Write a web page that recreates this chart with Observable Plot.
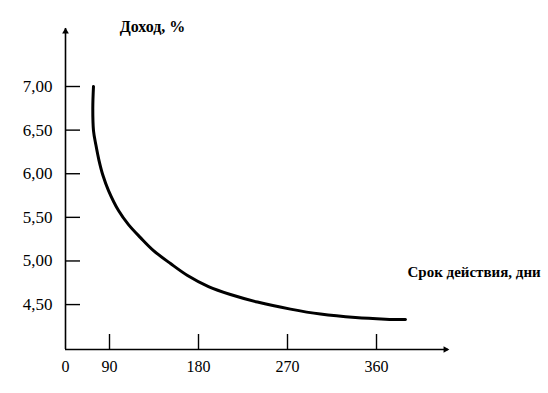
<!DOCTYPE html>
<html>
<head>
<meta charset="utf-8">
<script src="https://cdn.jsdelivr.net/npm/d3@7"></script>
<script src="https://cdn.jsdelivr.net/npm/@observablehq/plot@0.6"></script>
<style>
  html, body { margin: 0; padding: 0; background: #fff; }
  #chart svg { display: block; }
  #chart svg text { font-family: "Liberation Serif", "Times New Roman", Times, Tinos, "DejaVu Serif", "Noto Serif", serif !important; }
</style>
</head>
<body>
<div id="chart"></div>
<script>
// Curve: term (days) vs yield (%)
const days   = [73.8, 73.1, 73.8, 76.35, 79.4, 83.4, 89.0, 99.1, 109.2, 121.3, 134.5, 151.7, 168.9, 190.1, 212.3, 239.6, 273.0, 303.3, 338.7, 369.1, 389.3];
const yields = [7.000, 6.748, 6.495, 6.323, 6.151, 5.979, 5.807, 5.578, 5.417, 5.268, 5.119, 4.970, 4.833, 4.706, 4.615, 4.529, 4.448, 4.391, 4.351, 4.333, 4.328];

const yTicks = [7.0, 6.5, 6.0, 5.5, 5.0, 4.5];
const yTickLabels = ["7,00", "6,50", "6,00", "5,50", "5,00", "4,50"];
const xTicks = [45.5, 90, 180, 270, 360];
const xTickLabels = ["0", "90", "180", "270", "360"];
const xDomain = [45.5, 432.8];
const yDomain = [3.985, 7.665];

const yTitle = "Доход, %";
const xTitle = "Срок действия, дни";

const data = days.map((d, i) => ({day: d, y: yields[i]}));
const W = 548, H = 393;
const mL = 65, mR = 100, mT = 28, mB = 44;
const plotW = W - mL - mR, plotH = H - mT - mB;
const font = "Liberation Serif, Times New Roman, Times, DejaVu Serif, serif";

const chart = Plot.plot({
  width: W, height: H,
  marginLeft: mL, marginRight: mR, marginTop: mT, marginBottom: mB,
  style: {fontFamily: font, background: "#fff", color: "#000", overflow: "visible"},
  x: {domain: xDomain, axis: null},
  y: {domain: yDomain, axis: null},
  marks: [
    // axis lines
    Plot.ruleX([xDomain[0]], {stroke: "#000", strokeWidth: 1.6}),
    Plot.ruleY([yDomain[0]], {stroke: "#000", strokeWidth: 1.6}),
    // arrow heads
    Plot.dot([yDomain[1]], {x: () => xDomain[0], y: d => d, symbol: "triangle2", r: 3.2, fill: "#000", dy: 3}),
    Plot.dot([xDomain[1]], {x: d => d, y: () => yDomain[0], symbol: "triangle2", r: 3.2, fill: "#000", rotate: 90, dx: -3}),
    // y ticks (inward)
    Plot.tickY(yTicks, {y: d => d, stroke: "#000", strokeWidth: 1.4, insetRight: plotW - 15}),
    // x ticks (inward), skip origin
    Plot.tickX(xTicks.slice(1), {x: d => d, stroke: "#000", strokeWidth: 1.4, insetTop: plotH - 15}),
    // tick labels
    Plot.text(yTicks, {y: d => d, text: (d, i) => yTickLabels[i], frameAnchor: "left", textAnchor: "end", dx: -13, fontSize: 17, fontFamily: font, fill: "#000"}),
    Plot.text(xTicks, {x: d => d, text: (d, i) => xTickLabels[i], frameAnchor: "bottom", lineAnchor: "middle", dy: 17, fontSize: 16, fontFamily: font, fill: "#000"}),
    // curve
    Plot.line(data, {x: "day", y: "y", curve: "catmull-rom", stroke: "#000", strokeWidth: 3}),
    // titles
    Plot.text([yTitle], {text: d => d, frameAnchor: "top-left", textAnchor: "middle", lineAnchor: "middle", dx: 87, dy: -2, fontSize: 16, fontWeight: "bold", fontFamily: font, fill: "#000"}),
    Plot.text([xTitle], {text: d => d, frameAnchor: "bottom-right", textAnchor: "start", lineAnchor: "middle", dx: -41, dy: -77, fontSize: 15, fontWeight: "bold", fontFamily: font, fill: "#000"})
  ]
});
document.getElementById("chart").appendChild(chart);
</script>
</body>
</html>
